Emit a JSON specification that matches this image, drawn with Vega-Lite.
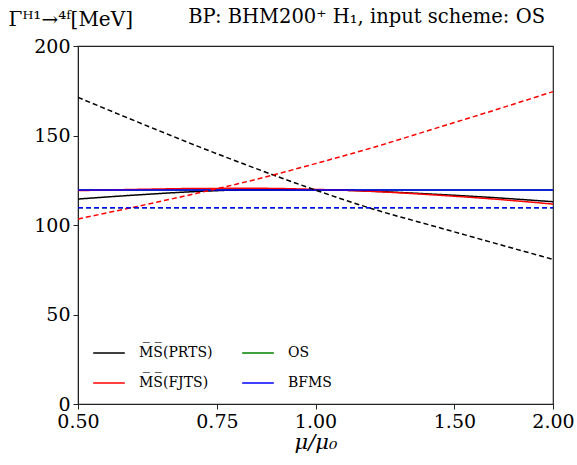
{
  "$schema": "https://vega.github.io/schema/vega-lite/v6.json",
  "autosize": "none",
  "width": 475,
  "height": 358,
  "padding": {"left": 78, "top": 46, "right": 24, "bottom": 61},
  "background": "white",
  "config": {
    "font": "DejaVu Serif",
    "view": {"stroke": "#222222", "strokeWidth": 1.2},
    "axis": {"domainColor": "#222222", "tickColor": "#222222", "labelColor": "black", "titleColor": "black", "grid": false, "labelFont": "DejaVu Serif", "titleFont": "DejaVu Serif", "titleFontWeight": "normal"},
    "legend": {"labelFont": "DejaVu Serif"}
  },
  "title": {"text": "BP: BHM200⁺ H₁, input scheme: OS", "anchor": "end", "frame": "group", "fontSize": 19.5, "fontWeight": "normal", "font": "DejaVu Serif", "color": "black", "offset": -18, "dx": -8},
  "datasets": {
    "green": [
      {"mu": 0.5, "scheme": "OS", "order": "NLO", "G": 119.6},
      {"mu": 2.0, "scheme": "OS", "order": "NLO", "G": 119.6},
      {"mu": 0.5, "scheme": "OS", "order": "LO", "G": 109.6},
      {"mu": 2.0, "scheme": "OS", "order": "LO", "G": 109.6}
    ],
    "main": [
      {"mu": 0.5, "scheme": "PRTS", "order": "NLO", "G": 114.5},
      {"mu": 0.5946, "scheme": "PRTS", "order": "NLO", "G": 116.8},
      {"mu": 0.7071, "scheme": "PRTS", "order": "NLO", "G": 118.7},
      {"mu": 0.8409, "scheme": "PRTS", "order": "NLO", "G": 119.7},
      {"mu": 1.0, "scheme": "PRTS", "order": "NLO", "G": 119.7},
      {"mu": 1.1892, "scheme": "PRTS", "order": "NLO", "G": 118.8},
      {"mu": 1.4142, "scheme": "PRTS", "order": "NLO", "G": 117.2},
      {"mu": 1.6818, "scheme": "PRTS", "order": "NLO", "G": 115.3},
      {"mu": 2.0, "scheme": "PRTS", "order": "NLO", "G": 113.0},
      {"mu": 0.5, "scheme": "FJTS", "order": "NLO", "G": 119.2},
      {"mu": 0.5946, "scheme": "FJTS", "order": "NLO", "G": 119.9},
      {"mu": 0.7071, "scheme": "FJTS", "order": "NLO", "G": 120.4},
      {"mu": 0.8409, "scheme": "FJTS", "order": "NLO", "G": 120.5},
      {"mu": 1.0, "scheme": "FJTS", "order": "NLO", "G": 119.9},
      {"mu": 1.1892, "scheme": "FJTS", "order": "NLO", "G": 118.7},
      {"mu": 1.4142, "scheme": "FJTS", "order": "NLO", "G": 116.8},
      {"mu": 1.6818, "scheme": "FJTS", "order": "NLO", "G": 114.5},
      {"mu": 2.0, "scheme": "FJTS", "order": "NLO", "G": 111.7},
      {"mu": 0.5, "scheme": "BFMS", "order": "NLO", "G": 119.6},
      {"mu": 2.0, "scheme": "BFMS", "order": "NLO", "G": 119.6},
      {"mu": 0.5, "scheme": "PRTS", "order": "LO", "G": 171.3},
      {"mu": 0.5946, "scheme": "PRTS", "order": "LO", "G": 157.6},
      {"mu": 0.7071, "scheme": "PRTS", "order": "LO", "G": 144.2},
      {"mu": 0.8409, "scheme": "PRTS", "order": "LO", "G": 131.5},
      {"mu": 1.0, "scheme": "PRTS", "order": "LO", "G": 119.5},
      {"mu": 1.1892, "scheme": "PRTS", "order": "LO", "G": 108.6},
      {"mu": 1.4142, "scheme": "PRTS", "order": "LO", "G": 99.3},
      {"mu": 1.6818, "scheme": "PRTS", "order": "LO", "G": 90.0},
      {"mu": 2.0, "scheme": "PRTS", "order": "LO", "G": 80.8},
      {"mu": 0.5, "scheme": "FJTS", "order": "LO", "G": 103.4},
      {"mu": 0.5946, "scheme": "FJTS", "order": "LO", "G": 110.4},
      {"mu": 0.7071, "scheme": "FJTS", "order": "LO", "G": 117.7},
      {"mu": 0.8409, "scheme": "FJTS", "order": "LO", "G": 125.5},
      {"mu": 1.0, "scheme": "FJTS", "order": "LO", "G": 134.3},
      {"mu": 1.1892, "scheme": "FJTS", "order": "LO", "G": 143.6},
      {"mu": 1.4142, "scheme": "FJTS", "order": "LO", "G": 153.8},
      {"mu": 1.6818, "scheme": "FJTS", "order": "LO", "G": 164.0},
      {"mu": 2.0, "scheme": "FJTS", "order": "LO", "G": 174.5},
      {"mu": 0.5, "scheme": "BFMS", "order": "LO", "G": 109.6},
      {"mu": 2.0, "scheme": "BFMS", "order": "LO", "G": 109.6}
    ]
  },
  "encoding": {
    "x": {"field": "mu", "type": "quantitative",
      "scale": {"type": "log", "base": 2, "domain": [0.5, 2], "nice": false},
      "axis": {"values": [0.5, 0.75, 1, 1.5, 2], "format": ".2f", "labelFont": "DejaVu Serif", "labelFontSize": 19, "tickSize": 5, "labelPadding": 3, "title": "μ/μ₀", "titleFont": "DejaVu Serif", "titleFontSize": 21, "titleFontStyle": "italic", "titlePadding": 0, "labelFlush": false}},
    "y": {"field": "G", "type": "quantitative",
      "scale": {"domain": [0, 200], "nice": false},
      "axis": {"values": [0, 50, 100, 150, 200], "labelFont": "DejaVu Serif", "labelFontSize": 19, "tickSize": 5, "labelPadding": 3, "title": "Γᴴ¹→⁴ᶠ[MeV]", "titleFont": "DejaVu Serif", "titleFontSize": 20, "titleAngle": 0, "titleAlign": "left", "titleBaseline": "alphabetic", "titleX": -70, "titleY": -21}},
    "color": {"field": "scheme", "type": "nominal",
      "scale": {"domain": ["PRTS", "FJTS", "OS", "BFMS"], "range": ["black", "red", "green", "blue"]},
      "legend": {"orient": "bottom-left", "columns": 2, "title": null, "symbolType": "stroke", "symbolSize": 1000, "symbolStrokeWidth": 1.5, "labelFontSize": 14, "labelFont": "DejaVu Serif", "labelOffset": 13, "labelExpr": "datum.value == 'PRTS' ? 'M̅S̅(PRTS)' : datum.value == 'FJTS' ? 'M̅S̅(FJTS)' : datum.value", "columnPadding": 26, "rowPadding": 6, "offset": 14, "padding": 0, "labelLimit": 200}},
    "strokeDash": {"field": "order", "type": "nominal", "scale": {"domain": ["NLO", "LO"], "range": [[1, 0], [5, 3]]}, "legend": null}
  },
  "layer": [
    {"data": {"name": "green"}, "mark": {"type": "line", "strokeWidth": 1.5}},
    {"data": {"name": "main"}, "mark": {"type": "line", "strokeWidth": 1.5, "interpolate": "monotone"}}
  ]
}
